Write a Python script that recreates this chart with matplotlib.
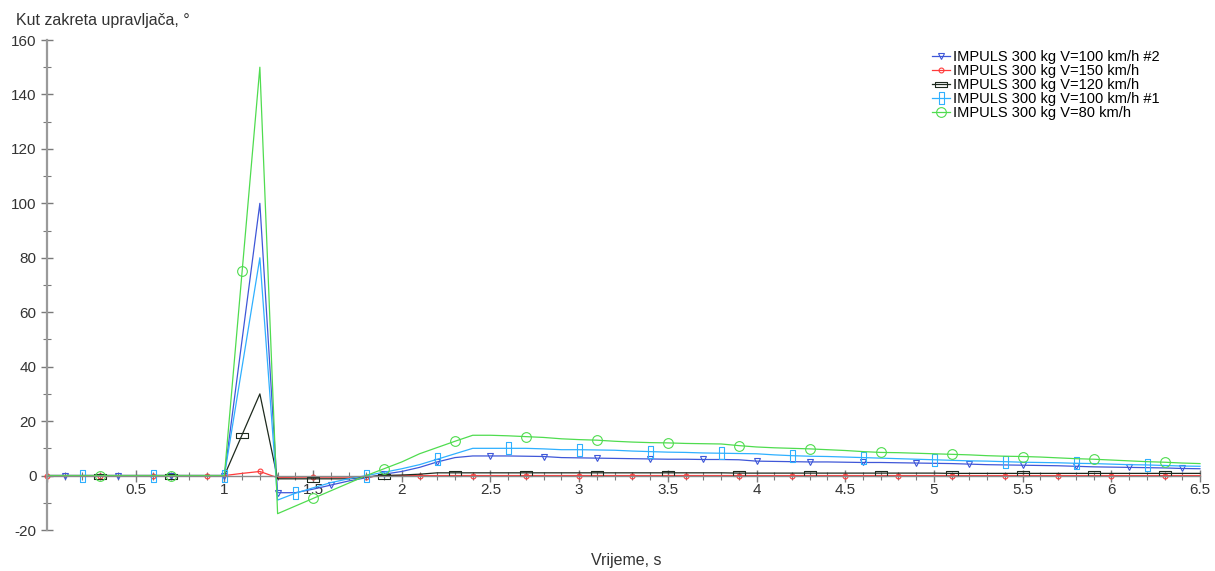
import numpy as np
import matplotlib
matplotlib.use('Agg')
import matplotlib.pyplot as plt
from matplotlib.ticker import MultipleLocator, FuncFormatter

plt.rcParams['font.family'] = ['Liberation Sans', 'DejaVu Sans']
plt.rcParams['axes.unicode_minus'] = False

# time axis, s (sampled every 0.1 s)
t = np.round(np.arange(0, 66) * 0.1, 1)

zeros = [0.0] * 11  # 0.0 .. 1.0 s

v100_2 = zeros + [50, 100, -6.3, -6.3, -5, -3.5, -2, -0.8, 0.5, 1.5,
                  3, 5, 6.6, 7.2, 7.2, 7.2, 7.1, 7.0, 6.6, 6.5,
                  6.4, 6.3, 6.2, 6.1, 6.0, 6.0, 5.9, 5.9, 5.8, 5.3,
                  5.2, 5.1, 5.0, 5.0, 4.9, 4.8, 4.8, 4.7, 4.6, 4.5,
                  4.4, 4.2, 4.0, 3.9, 3.8, 3.7, 3.6, 3.4, 3.2, 3.1,
                  3.0, 2.9, 2.8, 2.6, 2.5]
v150 = zeros + [0.8, 1.5, -0.8, -0.6, -0.6, -0.6, -0.6, -0.6, 0, 0,
                0, 0, 0, 0, 0, 0, 0, 0, 0, 0,
                0, 0, 0, 0, 0, 0, 0, 0, 0, 0,
                0, 0, 0, 0, 0, 0, 0, 0, 0, 0,
                0, 0, 0, 0, 0, 0, 0, 0, 0, 0,
                0, 0, 0, 0, 0]
v120 = zeros + [15, 30, -1.2, -1.2, -1.2, -1.2, -1.2, -0.5, 0, 0.2,
                0.5, 1.0, 1.0, 1.0, 1.0, 1.0, 1.0, 1.0, 1.0, 1.0,
                1.0, 1.0, 1.0, 1.0, 1.0, 1.0, 1.0, 1.0, 0.9, 0.9,
                0.9, 0.9, 0.9, 0.9, 0.9, 0.9, 0.9, 0.9, 0.9, 0.9,
                0.8, 0.8, 0.8, 0.8, 0.8, 0.8, 0.8, 0.8, 0.8, 0.8,
                0.8, 0.8, 0.8, 0.8, 0.8]
v100_1 = zeros + [40, 80, -9, -6.5, -4.5, -2.6, -1.2, 0, 1.2, 2.5,
                  4, 6, 8, 10, 10, 10, 10, 9.8, 9.5, 9.5,
                  9.4, 9.3, 9.0, 8.8, 8.6, 8.5, 8.3, 8.2, 8.1, 8.0,
                  7.6, 7.3, 7.1, 7.0, 6.8, 6.6, 6.4, 6.2, 6.0, 5.8,
                  5.6, 5.4, 5.3, 5.1, 4.9, 4.8, 4.7, 4.5, 4.4, 4.2,
                  4.0, 3.9, 3.7, 3.5, 3.4]
v80 = zeros + [75, 150, -14, -11.2, -8.4, -5.6, -2.8, 0, 2.5, 5,
               8, 10.3, 12.6, 14.8, 14.8, 14.6, 14.3, 14.0, 13.5, 13.2,
               13.0, 12.6, 12.3, 12.1, 12.0, 11.8, 11.7, 11.6, 11.0, 10.5,
               10.2, 10.0, 9.8, 9.5, 9.2, 8.8, 8.5, 8.4, 8.2, 8.0,
               7.8, 7.6, 7.3, 7.1, 7.0, 6.8, 6.5, 6.2, 6.0, 5.7,
               5.4, 5.1, 4.9, 4.6, 4.4]

labels = ['IMPULS 300 kg V=100 km/h #2', 'IMPULS 300 kg V=150 km/h',
          'IMPULS 300 kg V=120 km/h', 'IMPULS 300 kg V=100 km/h #1',
          'IMPULS 300 kg V=80 km/h']

tall_box = [(-0.45, -1), (0.45, -1), (0.45, 1), (-0.45, 1), (-0.45, -1)]
wide_box = [(-1, -0.45), (1, -0.45), (1, 0.45), (-1, 0.45), (-1, -0.45)]

styles = [
    dict(color='#3f57d8', marker='v', ms=4.5, markevery=(1, 3)),
    dict(color='#ff3b3b', marker='o', ms=3.5, markevery=(0, 3)),
    dict(color='#1e2a1e', marker=wide_box, ms=8, markevery=(3, 4)),
    dict(color='#2fb0ff', marker=tall_box, ms=8, markevery=(2, 4)),
    dict(color='#4fdc4f', marker='o', ms=7, markevery=(3, 4)),
]

fig = plt.figure(figsize=(12.15, 5.71), dpi=100)
ax = fig.add_axes([47 / 1215, 1 - 530 / 571, (1200 - 47) / 1215, (530 - 40) / 571])

for v, lab, st in zip([v100_2, v150, v120, v100_1, v80], labels, styles):
    ax.plot(t, v, lw=0.9, label=lab, mfc='none', mew=0.8, clip_on=False, **st)

ax.set_xlim(0, 6.5)
ax.set_ylim(-20, 160)

ax.spines['top'].set_visible(False)
ax.spines['right'].set_visible(False)
ax.spines['left'].set_color('#9a9a9a')
ax.spines['left'].set_linewidth(1.6)
ax.spines['bottom'].set_position(('data', 0))
ax.spines['bottom'].set_color('#8a8a8a')
ax.spines['bottom'].set_linewidth(1.0)

ax.xaxis.set_major_locator(MultipleLocator(0.5))
ax.xaxis.set_minor_locator(MultipleLocator(0.1))
ax.yaxis.set_major_locator(MultipleLocator(20))
ax.yaxis.set_minor_locator(MultipleLocator(10))
ax.xaxis.set_major_formatter(FuncFormatter(lambda x, p: '' if x == 0 else '%g' % x))
ax.tick_params(which='major', direction='inout', length=9, width=1, color='#7a7a7a',
               labelsize=11, labelcolor='#333333')
ax.tick_params(which='minor', direction='inout', length=6, width=0.8, color='#7a7a7a')
ax.tick_params(axis='x', pad=1)
ax.tick_params(axis='y', pad=3)

fig.text(16 / 1215, 1 - 20 / 571, 'Kut zakreta upravljača, °', fontsize=11.5,
         color='#333333', va='center')
fig.text(626 / 1215, 1 - 561 / 571, 'Vrijeme, s', fontsize=11.5, color='#333333',
         ha='center', va='center')

ax.legend(loc='upper left', bbox_to_anchor=(932 / 1215, 1 - 50 / 571),
          bbox_transform=fig.transFigure, frameon=False, fontsize=10.5,
          labelspacing=0.0, handlelength=1.2, handletextpad=0.25,
          borderpad=0, borderaxespad=0)

fig.savefig('out.png', dpi=100)
